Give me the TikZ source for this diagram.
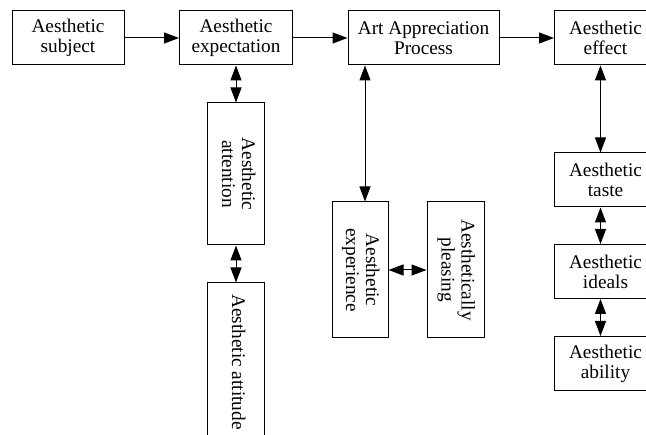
\documentclass[tikz,border=0pt]{standalone}
\usepackage{fontspec}
\setmainfont{Liberation Serif}
\usetikzlibrary{arrows.meta,positioning}
\tikzstyle{box}  =[draw, line width=1pt, inner sep=0pt,
                   align=center, font=\fontsize{19.3}{20}\selectfont]
\tikzstyle{edge} =[line width=1pt, -{Triangle[length=15pt,width=11pt]}]
\tikzstyle{dedge}=[line width=1pt,
                   {Triangle[length=15pt,width=11pt]}-{Triangle[length=15pt,width=11pt]}]
\newcommand{\vlabel}[1]{\rotatebox{-90}{\begin{tabular}{@{}c@{}}#1\end{tabular}}}

\begin{document}
\begin{tikzpicture}[x=1pt,y=-1pt]

        \useasboundingbox (0,0) rectangle (646,435);
        \clip (0,0) rectangle (646,435);

        % top row
        \node[box, minimum width=112pt, minimum height=54pt] (subj) at (68,38) {Aesthetic\\subject};
        \node[box, minimum width=113pt, minimum height=54pt] (expt) at (236,38) {Aesthetic\\expectation};
        \node[box, minimum width=151pt, minimum height=54pt] (proc) at (423.5,38) {Art Appreciation\\Process};
        \node[box, minimum width=102pt, minimum height=54pt] (eff) at (605.5,38) {Aesthetic\\effect};

        % rotated boxes
        \node[box, minimum width=57pt, minimum height=142pt] (attn) at (236,174) {\vlabel{Aesthetic\\attention}};
        \node[box, minimum width=57pt, minimum height=158pt] (attd) at (236,362) {\vlabel{Aesthetic attitude}};
        \node[box, minimum width=56pt, minimum height=136pt] (expe) at (360,270) {\vlabel{Aesthetic\\experience}};
        \node[box, minimum width=57pt, minimum height=136pt] (pleas) at (455.5,270) {\vlabel{Aesthetically\\pleasing}};

        % right column
        \node[box, minimum width=102pt, minimum height=54pt] (taste) at (605.5,180) {Aesthetic\\taste};
        \node[box, minimum width=102pt, minimum height=54pt] (ideal) at (605.5,271.5) {Aesthetic\\ideals};
        \node[box, minimum width=102pt, minimum height=54pt] (abil) at (605.5,363.5) {Aesthetic\\ability};

        \foreach \i/\j in {subj/expt,expt/proc,proc/eff}
            \draw [edge] (\i) -- (\j);

        \foreach \i/\j in {expt/attn,attn/attd}
            \draw [dedge] (\i.south) -- (\j.north);

        \coordinate (pe) at ([xshift=5pt]expe.north);
        \draw [dedge] (pe |- proc.south) -- (pe);
        \draw [dedge] (expe) -- (pleas);

        \foreach \i/\j in {eff/taste,taste/ideal,ideal/abil}
            \draw [dedge] ([xshift=-5pt]\i.south) -- ([xshift=-5pt]\j.north);

\end{tikzpicture}
\end{document}
